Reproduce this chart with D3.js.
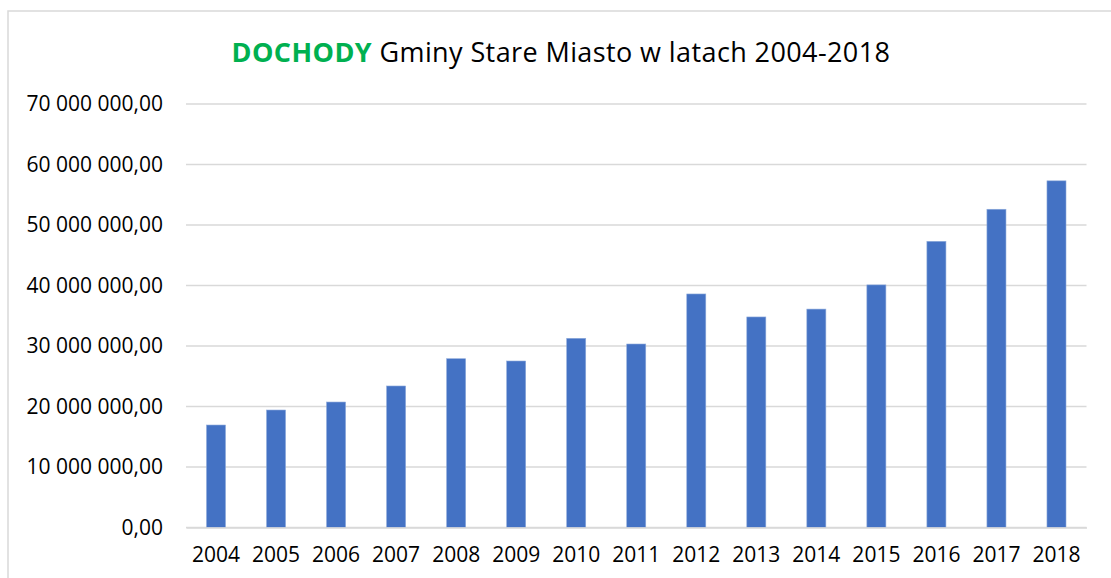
<!DOCTYPE html>
<html><head><meta charset="utf-8">
<script src="https://cdn.jsdelivr.net/npm/d3@7"></script>
<style>body{margin:0;background:#fff;} svg{display:block;}</style>
</head><body>
<script>
const years = ["2004","2005","2006","2007","2008","2009","2010","2011","2012","2013","2014","2015","2016","2017","2018"];
const revenues = [16940000,19420000,20740000,23390000,27900000,27520000,31270000,30330000,38600000,34800000,36100000,40100000,47300000,52600000,57300000];
const yTicks = [0,10000000,20000000,30000000,40000000,50000000,60000000,70000000];
const titleBold = "DOCHODY";
const titleRest = " Gminy Stare Miasto w latach 2004-2018";

const W = 1111, H = 578;
const svg = d3.select("body").append("svg").attr("width", W).attr("height", H);
const font = "'Open Sans', sans-serif";

// chart border
svg.append("rect").attr("x", 8).attr("y", 11).attr("width", 1200).attr("height", 700)
  .attr("fill", "none").attr("stroke", "#d9d9d9").attr("stroke-width", 1.5);

const m = {left: 186, right: 1086.5, top: 104, bottom: 527.5};
const x = d3.scaleBand().domain(years).range([m.left, m.right]).paddingInner(0.683).paddingOuter(0.3415);
const y = d3.scaleLinear().domain([0, 70000000]).range([m.bottom, m.top]);

const fmt = v => {
  const s = d3.format(",.2f")(v);
  return s.replace(/,/g, " ").replace(".", ",");
};

// gridlines
svg.append("g").selectAll("line").data(yTicks).join("line")
  .attr("x1", m.left).attr("x2", m.right)
  .attr("y1", d => y(d)).attr("y2", d => y(d))
  .attr("stroke", "#d9d9d9").attr("stroke-width", 1.5);

// y axis labels
const yAxis = d3.axisLeft(y).tickValues(yTicks).tickFormat(fmt).tickSize(0).tickPadding(0);
const gy = svg.append("g").attr("transform", `translate(${m.left - 23},0)`).call(yAxis);
gy.select(".domain").remove();
gy.selectAll("text").attr("font-family", font).attr("font-size", 21).attr("fill", "#000");

// bars
svg.append("g").selectAll("rect").data(revenues).join("rect")
  .attr("x", (d, i) => x(years[i]))
  .attr("width", x.bandwidth())
  .attr("y", d => y(d))
  .attr("height", d => y(0) - y(d))
  .attr("fill", "#4472C4")
  .attr("stroke", "#8eaadb").attr("stroke-width", 0.6);

// x axis
const xAxis = d3.axisBottom(x).tickSize(0).tickPadding(20);
const gx = svg.append("g").attr("transform", `translate(0,${m.bottom})`).call(xAxis);
gx.select(".domain").attr("stroke", "#d9d9d9").attr("stroke-width", 1.5);
gx.selectAll("text").attr("font-family", font).attr("font-size", 21).attr("fill", "#000");

// title
const t = svg.append("text").attr("x", 561).attr("y", 62).attr("text-anchor", "middle")
  .attr("font-family", font).attr("font-size", 27).attr("letter-spacing", 0.4).attr("fill", "#000");
t.append("tspan").attr("font-weight", "bold").attr("fill", "#00B050").text(titleBold);
t.append("tspan").text(titleRest);
</script>
</body></html>
